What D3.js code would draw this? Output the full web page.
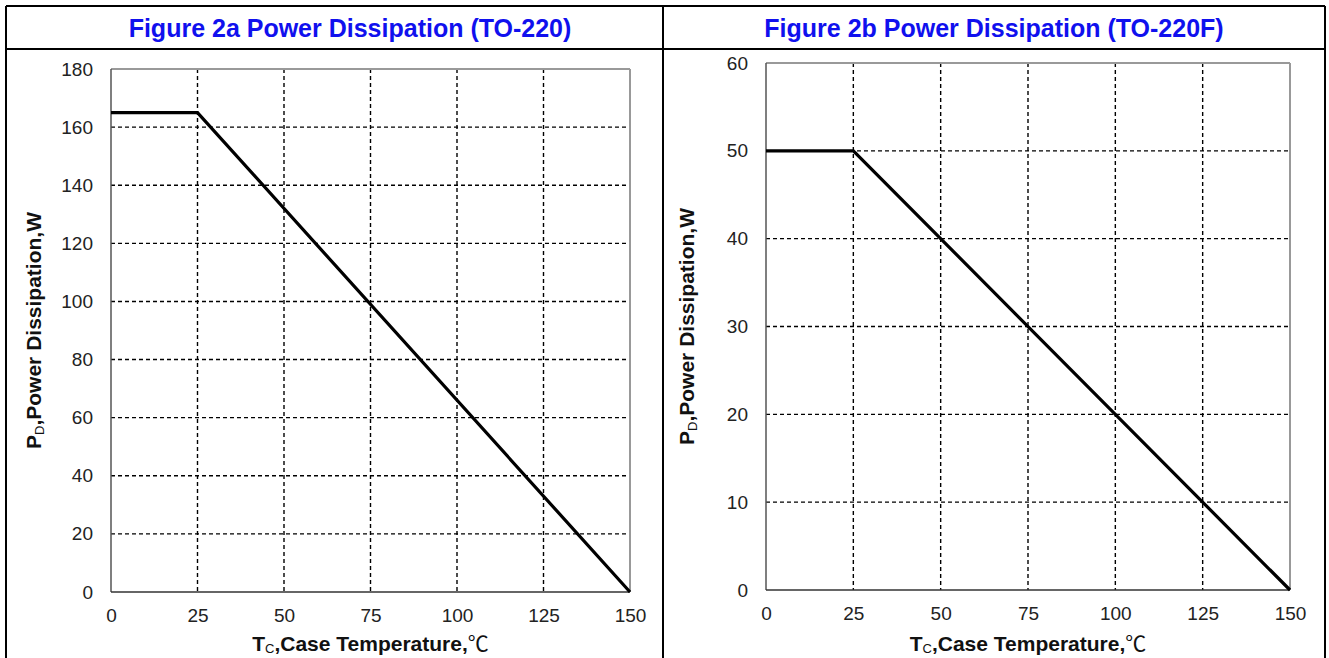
<!DOCTYPE html>
<html>
<head>
<meta charset="utf-8">
<script src="https://cdn.jsdelivr.net/npm/d3@7"></script>
<style>
  html, body { margin: 0; padding: 0; background: #fff; }
  svg { display: block; }
</style>
</head>
<body>
<div id="chart"></div>
<script>
(function () {
  'use strict';

  // case temperature (°C) vs power dissipation (W)
  var tempA = [0, 25, 150];
  var powerA = [165, 165, 0];
  var tempB = [0, 25, 150];
  var powerB = [50, 50, 0];

  var xTicks = [0, 25, 50, 75, 100, 125, 150];
  var yTicksA = [0, 20, 40, 60, 80, 100, 120, 140, 160, 180];
  var yTicksB = [0, 10, 20, 30, 40, 50, 60];

  var titleA = 'Figure 2a Power Dissipation (TO-220)';
  var titleB = 'Figure 2b Power Dissipation (TO-220F)';

  var W = 1329, H = 658;
  var font = '"Liberation Sans", Arial, sans-serif';

  var svg = d3.select('#chart').append('svg')
    .attr('width', W)
    .attr('height', H);

  // table frame
  var frame = svg.append('g').attr('stroke', '#000').attr('stroke-width', 2).attr('fill', 'none');
  frame.append('line').attr('x1', 6).attr('x2', 1325).attr('y1', 6).attr('y2', 6);
  frame.append('line').attr('x1', 6).attr('x2', 1325).attr('y1', 49).attr('y2', 49);
  frame.append('line').attr('x1', 6).attr('x2', 6).attr('y1', 6).attr('y2', H);
  frame.append('line').attr('x1', 663).attr('x2', 663).attr('y1', 6).attr('y2', H);
  frame.append('line').attr('x1', 1325).attr('x2', 1325).attr('y1', 6).attr('y2', H);

  function drawPanel(cfg) {
    var x = d3.scaleLinear().domain([0, 150]).range([cfg.left, cfg.right]);
    var y = d3.scaleLinear().domain([0, cfg.yMax]).range([cfg.bottom, cfg.top]);
    var g = svg.append('g');

    svg.append('text')
      .attr('x', cfg.titleX)
      .attr('y', 37)
      .attr('text-anchor', 'middle')
      .attr('font-family', font)
      .attr('font-weight', 'bold')
      .attr('font-size', '25px')
      .attr('fill', '#1010ee')
      .text(cfg.title);

    // dashed grid
    g.append('g').selectAll('line')
      .data(xTicks.filter(function (d) { return d > 0 && d < 150; }))
      .join('line')
      .attr('x1', function (d) { return x(d); })
      .attr('x2', function (d) { return x(d); })
      .attr('y1', cfg.top)
      .attr('y2', cfg.bottom)
      .attr('stroke', '#000')
      .attr('stroke-width', 1.4)
      .attr('stroke-dasharray', '4,3');
    g.append('g').selectAll('line')
      .data(cfg.yTicks.filter(function (d) { return d > 0 && d < cfg.yMax; }))
      .join('line')
      .attr('x1', cfg.left)
      .attr('x2', cfg.right)
      .attr('y1', function (d) { return y(d); })
      .attr('y2', function (d) { return y(d); })
      .attr('stroke', '#000')
      .attr('stroke-width', 1.4)
      .attr('stroke-dasharray', '4,3');

    // plot border: grey top/right, dark axes
    g.append('line').attr('x1', cfg.left).attr('x2', cfg.right).attr('y1', cfg.top).attr('y2', cfg.top)
      .attr('stroke', '#999').attr('stroke-width', 2);
    g.append('line').attr('x1', cfg.right).attr('x2', cfg.right).attr('y1', cfg.top).attr('y2', cfg.bottom)
      .attr('stroke', '#999').attr('stroke-width', 2);
    g.append('line').attr('x1', cfg.left).attr('x2', cfg.left).attr('y1', cfg.top).attr('y2', cfg.bottom)
      .attr('stroke', '#555').attr('stroke-width', 1.5);
    g.append('line').attr('x1', cfg.left).attr('x2', cfg.right).attr('y1', cfg.bottom).attr('y2', cfg.bottom)
      .attr('stroke', '#333').attr('stroke-width', 1.5);

    var xAxis = g.append('g')
      .attr('transform', 'translate(0,' + cfg.bottom + ')')
      .call(d3.axisBottom(x).tickValues(xTicks).tickSize(0).tickPadding(17));
    var yAxis = g.append('g')
      .attr('transform', 'translate(' + cfg.left + ',0)')
      .call(d3.axisLeft(y).tickValues(cfg.yTicks).tickSize(0).tickPadding(18));
    [xAxis, yAxis].forEach(function (a) {
      a.select('.domain').remove();
      a.selectAll('text')
        .attr('font-family', font)
        .attr('font-size', '19px')
        .attr('fill', '#222');
    });

    // data line
    var pts = cfg.temp.map(function (t, i) { return [t, cfg.power[i]]; });
    g.append('path')
      .datum(pts)
      .attr('d', d3.line().x(function (d) { return x(d[0]); }).y(function (d) { return y(d[1]); }))
      .attr('fill', 'none')
      .attr('stroke', '#000')
      .attr('stroke-width', 3.2);

    // axis titles
    var xt = g.append('text')
      .attr('x', (cfg.left + cfg.right) / 2)
      .attr('y', 651)
      .attr('text-anchor', 'middle')
      .attr('font-family', font)
      .attr('font-weight', 'bold')
      .attr('font-size', '21px')
      .attr('fill', '#111');
    xt.append('tspan').text('T');
    xt.append('tspan').attr('font-size', '13px').attr('font-weight', 'normal').attr('dy', 2).text('C');
    xt.append('tspan').attr('dy', -2).text(',Case Temperature,');
    xt.append('tspan').attr('font-family', '"Noto Sans CJK SC", "DejaVu Sans", serif').attr('font-weight', 'normal').text('\u2103');

    var yt = g.append('text')
      .attr('transform', 'translate(' + cfg.yTitleX + ',' + ((cfg.top + cfg.bottom) / 2) + ') rotate(-90)')
      .attr('text-anchor', 'middle')
      .attr('font-family', font)
      .attr('font-weight', 'bold')
      .attr('font-size', '21px')
      .attr('fill', '#111');
    yt.append('tspan').text('P');
    yt.append('tspan').attr('font-size', '13px').attr('font-weight', 'normal').attr('dy', 3).text('D');
    yt.append('tspan').attr('dy', -3).text(',Power Dissipation,W');
  }

  drawPanel({
    title: titleA, titleX: 350,
    temp: tempA, power: powerA, yMax: 180, yTicks: yTicksA,
    left: 111, right: 630, top: 69, bottom: 592, yTitleX: 41
  });
  drawPanel({
    title: titleB, titleX: 994,
    temp: tempB, power: powerB, yMax: 60, yTicks: yTicksB,
    left: 766, right: 1290, top: 63, bottom: 590, yTitleX: 694
  });
})();
</script>
</body>
</html>
